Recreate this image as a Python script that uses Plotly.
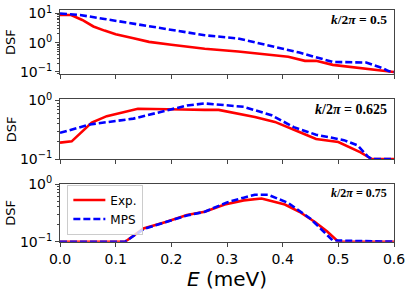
import plotly.graph_objects as go

# ---- data (E in meV, DSF values) ----
E1_exp = [0.0, 0.02, 0.04, 0.06, 0.08, 0.10, 0.13, 0.16, 0.20, 0.26, 0.32, 0.38, 0.41, 0.44, 0.46, 0.49, 0.52, 0.55, 0.58, 0.6]
S1_exp = [8.9, 8.9, 6.0, 3.6, 2.6, 1.95, 1.45, 1.07, 0.85, 0.62, 0.50, 0.39, 0.33, 0.24, 0.24, 0.175, 0.15, 0.125, 0.105, 0.1]
E1_mps = [0.0, 0.036, 0.08, 0.13, 0.18, 0.22, 0.26, 0.32, 0.38, 0.43, 0.49, 0.52, 0.55, 0.58, 0.59, 0.6]
S1_mps = [10.0, 8.9, 6.5, 4.6, 3.2, 2.4, 1.8, 1.4, 0.78, 0.46, 0.22, 0.215, 0.21, 0.135, 0.107, 0.1]

E2_exp = [0.0, 0.021, 0.057, 0.084, 0.14, 0.18, 0.22, 0.26, 0.285, 0.35, 0.386, 0.43, 0.46, 0.50, 0.51, 0.54, 0.56, 0.6]
S2_exp = [0.19, 0.20, 0.42, 0.54, 0.72, 0.72, 0.70, 0.69, 0.69, 0.52, 0.43, 0.29, 0.22, 0.195, 0.175, 0.13, 0.1, 0.1]
E2_mps = [0.0, 0.054, 0.132, 0.186, 0.228, 0.26, 0.33, 0.38, 0.42, 0.46, 0.51, 0.535, 0.553, 0.56, 0.6]
S2_mps = [0.28, 0.39, 0.49, 0.66, 0.82, 0.89, 0.78, 0.56, 0.35, 0.26, 0.21, 0.17, 0.11, 0.1, 0.1]

E3_exp = [0.0, 0.117, 0.15, 0.19, 0.228, 0.26, 0.296, 0.33, 0.362, 0.404, 0.43, 0.458, 0.48, 0.5, 0.6]
S3_exp = [0.1, 0.1, 0.17, 0.22, 0.29, 0.33, 0.44, 0.52, 0.56, 0.44, 0.33, 0.22, 0.15, 0.1, 0.1]
E3_mps = [0.0, 0.117, 0.15, 0.19, 0.228, 0.26, 0.30, 0.33, 0.35, 0.374, 0.41, 0.45, 0.47, 0.49, 0.6]
S3_mps = [0.1, 0.1, 0.165, 0.215, 0.285, 0.33, 0.48, 0.58, 0.65, 0.65, 0.47, 0.25, 0.16, 0.105, 0.1]

x_ticks = [0.0, 0.1, 0.2, 0.3, 0.4, 0.5, 0.6]
x_ticktext = ["0.0", "0.1", "0.2", "0.3", "0.4", "0.5", "0.6"]
k_labels = ["0.5", "0.625", "0.75"]

RED = "#ff0000"
BLUE = "#0000ff"

fig = go.Figure()
panels = [(E1_exp, S1_exp, E1_mps, S1_mps), (E2_exp, S2_exp, E2_mps, S2_mps), (E3_exp, S3_exp, E3_mps, S3_mps)]
for i, (ex, sx, em, sm) in enumerate(panels):
    xa = "x" if i == 0 else f"x{i+1}"
    ya = "y" if i == 0 else f"y{i+1}"
    fig.add_trace(go.Scatter(x=ex, y=sx, mode="lines", name="Exp.", line=dict(color=RED, width=2.6),
                             xaxis=xa, yaxis=ya, showlegend=(i == 2), cliponaxis=True))
    fig.add_trace(go.Scatter(x=em, y=sm, mode="lines", name="MPS", line=dict(color=BLUE, width=2.6, dash="7px,3px"),
                             xaxis=xa, yaxis=ya, showlegend=(i == 2), cliponaxis=True))

H = 294.0
W_PLOT = 334.0
doms = [(1 - 74 / H, 1 - 10 / H), (1 - 159 / H, 1 - 99.3 / H), (1 - 241.7 / H, 1 - 184 / H)]
yranges = [[-1.07, 1.12], [-1.0, 0.02], [-1.0, 0.0]]
ytv = [[0.1, 1, 10], [0.1, 1], [0.1, 1]]
ytt = [["10<sup>−1</sup>", "10<sup>0</sup>", "10<sup>1</sup>"], ["10<sup>−1</sup>", "10<sup>0</sup>"], ["10<sup>−1</sup>", "10<sup>0</sup>"]]

axcol = "#444444"
layout = dict(
    width=410, height=294,
    margin=dict(l=60, r=16, t=0, b=0, autoexpand=False),
    plot_bgcolor="white", paper_bgcolor="white",
    font=dict(family="DejaVu Sans", color="black", size=13),
    showlegend=True,
    legend=dict(x=0.022, y=1 - 184.5 / H, xanchor="left", yanchor="top", bgcolor="rgba(255,255,255,0.8)",
                bordercolor="#cccccc", borderwidth=1, font=dict(size=12, family="DejaVu Sans"),
                tracegroupgap=0, itemwidth=32),
)
for i in range(3):
    xs = "xaxis" if i == 0 else f"xaxis{i+1}"
    ys = "yaxis" if i == 0 else f"yaxis{i+1}"
    ya = "y" if i == 0 else f"y{i+1}"
    xa = "x" if i == 0 else f"x{i+1}"
    layout[xs] = dict(domain=[0, 1], anchor=ya, range=[0, 0.6], tickvals=x_ticks, ticktext=x_ticktext,
                      showticklabels=(i == 2), ticks="outside", ticklen=4, tickcolor=axcol,
                      showline=True, linecolor=axcol, linewidth=1, mirror=True, showgrid=False, zeroline=False,
                      tickfont=dict(size=14))
    layout[ys] = dict(domain=list(doms[i]), anchor=xa, type="log", range=yranges[i], tickvals=ytv[i], ticktext=ytt[i],
                      ticks="outside", ticklen=4, tickcolor=axcol, showline=True, linecolor=axcol, linewidth=1,
                      mirror=True, showgrid=False, zeroline=False, tickfont=dict(size=14),
                      minor=dict(ticks="outside", ticklen=2, tickcolor=axcol, dtick="D1", showgrid=False))
layout["xaxis3"]["title"] = dict(text="<i>E</i> (meV)", font=dict(size=20), standoff=2)
fig.update_layout(**layout)

# y-axis labels "DSF"
ylab_y = [(74 + 10) / 2, (159 + 99.3) / 2, (241.7 + 184) / 2]
for yc in ylab_y:
    fig.add_annotation(x=(11 - 60) / W_PLOT, y=1 - yc / H, xref="paper", yref="paper", xanchor="center", yanchor="middle",
                       text="DSF", textangle=-90, showarrow=False, font=dict(size=13))

ann_sizes = [13.5, 14, 12]
ann_y = [20, 110, 193]
for i in range(3):
    fig.add_annotation(x=(389 - 60) / W_PLOT, y=1 - ann_y[i] / H, xref="paper", yref="paper", xanchor="right", yanchor="middle",
                       text=f"<b><i>k</i>/2<i>π</i> = {k_labels[i]}</b>", showarrow=False,
                       font=dict(size=ann_sizes[i], family="Liberation Serif"))

fig.write_html("out.html", config={"displayModeBar": False},
               post_script="document.body.style.margin='0';document.body.style.padding='0';")
